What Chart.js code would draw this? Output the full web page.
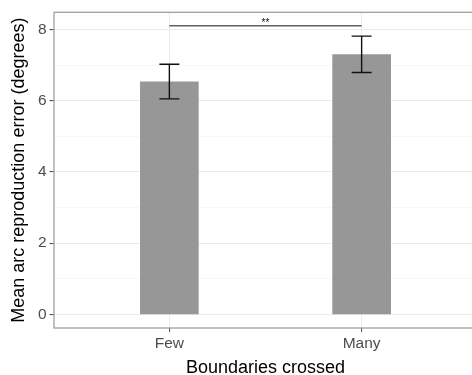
<!DOCTYPE html>
<html>
<head>
<meta charset="utf-8">
<script src="https://cdn.jsdelivr.net/npm/chart.js@4/dist/chart.umd.min.js"></script>
<style>
  html, body { margin: 0; padding: 0; background: #fff; overflow: hidden; }
  #wrap { width: 472px; height: 375px; overflow: hidden; }
  canvas { display: block; }
</style>
</head>
<body>
<div id="wrap"><canvas id="chart" width="477" height="375"></canvas></div>
<script>
// data
const categories = ["Few", "Many"];
const means = [6.53, 7.29];
const errLow = [6.05, 6.79];
const errHigh = [7.02, 7.81];
const yTicks = [0, 1, 2, 3, 4, 5, 6, 7, 8];
const sigFrom = 1, sigTo = 2, sigY = 8.1, sigLabel = "**";

const FONT = "'Liberation Sans', Arial, Helvetica, sans-serif";

// error bars + significance bracket
const extras = {
  id: "extras",
  afterDatasetsDraw(chart) {
    const { ctx, scales: { x, y } } = chart;
    ctx.save();
    ctx.strokeStyle = "#111";
    ctx.lineWidth = 1.4;
    means.forEach((m, i) => {
      const px = x.getPixelForValue(i + 1);
      const lo = y.getPixelForValue(errLow[i]);
      const hi = y.getPixelForValue(errHigh[i]);
      ctx.beginPath();
      ctx.moveTo(px, lo); ctx.lineTo(px, hi);
      ctx.moveTo(px - 10, lo); ctx.lineTo(px + 10, lo);
      ctx.moveTo(px - 10, hi); ctx.lineTo(px + 10, hi);
      ctx.stroke();
    });
    // bracket
    const sy = y.getPixelForValue(sigY);
    ctx.lineWidth = 1;
    ctx.beginPath();
    ctx.moveTo(x.getPixelForValue(sigFrom), sy);
    ctx.lineTo(x.getPixelForValue(sigTo), sy);
    ctx.stroke();
    ctx.fillStyle = "#111";
    ctx.font = "10px " + FONT;
    ctx.textAlign = "center";
    ctx.textBaseline = "middle";
    ctx.fillText(sigLabel, x.getPixelForValue((sigFrom + sigTo) / 2), sy - 3);
    ctx.restore();
  },
  afterDraw(chart) {
    const { ctx, chartArea: a } = chart;
    ctx.save();
    ctx.strokeStyle = "#a0a0a0";
    ctx.lineWidth = 1.3;
    ctx.strokeRect(a.left, a.top, a.right - a.left, a.bottom - a.top);
    ctx.restore();
  }
};

new Chart(document.getElementById("chart"), {
  type: "bar",
  data: {
    datasets: [{
      data: means.map((m, i) => ({ x: i + 1, y: m })),
      backgroundColor: "#979797",
      borderWidth: 0,
      barThickness: 58
    }]
  },
  options: {
    responsive: false,
    animation: false,
    layout: { padding: { top: 12, left: 0, right: 0, bottom: 0 } },
    plugins: { legend: { display: false }, tooltip: { enabled: false } },
    scales: {
      x: {
        type: "linear",
        min: 0.4,
        max: 2.6,
        offset: false,
        afterBuildTicks: (s) => { s.ticks = categories.map((c, i) => ({ value: i + 1 })); },
        afterFit: (s) => { s.height = 47; },
        ticks: {
          callback: (v) => categories[v - 1],
          color: "#4d4d4d",
          font: { family: FONT, size: 15.5 },
          padding: 2,
          maxRotation: 0
        },
        grid: {
          offset: false,
          color: "#ebebeb",
          lineWidth: 1.1,
          tickLength: 4,
          tickColor: "#555"
        },
        border: { display: false },
        title: {
          display: true,
          text: "Boundaries crossed",
          color: "#000",
          font: { family: FONT, size: 18 },
          padding: { top: 0, bottom: -4 }
        }
      },
      y: {
        min: -0.38,
        max: 8.48,
        afterBuildTicks: (s) => { s.ticks = yTicks.map(v => ({ value: v })); },
        afterFit: (s) => { s.width = 54; },
        ticks: {
          callback: (v) => (v % 2 === 0 ? String(v) : ""),
          color: "#4d4d4d",
          font: { family: FONT, size: 15.5 },
          padding: 3
        },
        grid: {
          color: (c) => (c.tick && c.tick.value % 2 === 0 ? "#ebebeb" : "#f3f3f3"),
          lineWidth: (c) => (c.tick && c.tick.value % 2 === 0 ? 1.1 : 0.7),
          tickLength: 4.5,
          tickColor: (c) => (c.tick && c.tick.value % 2 === 0 ? "#555" : "rgba(0,0,0,0)")
        },
        border: { display: false },
        title: {
          display: true,
          text: "Mean arc reproduction error (degrees)",
          color: "#000",
          font: { family: FONT, size: 18 },
          padding: { top: 8, bottom: 0 }
        }
      }
    }
  },
  plugins: [extras]
});
</script>
</body>
</html>
